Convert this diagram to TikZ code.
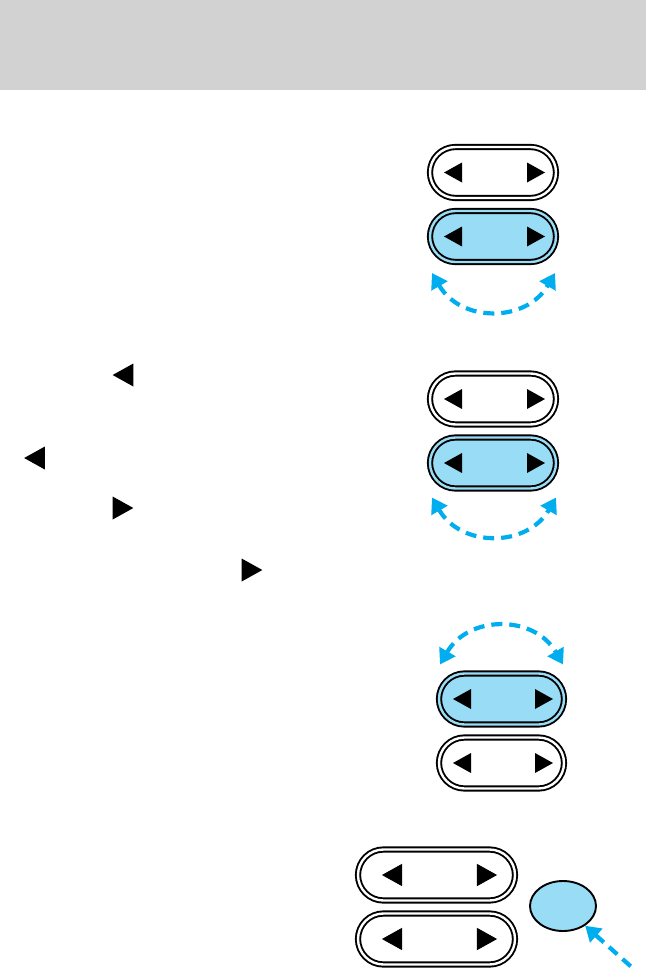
\documentclass[tikz,border=0pt]{standalone}
\usetikzlibrary{arrows.meta,positioning,shapes.misc,shapes.geometric}
\definecolor{keyblue}{RGB}{153,220,245}
\definecolor{swingblue}{RGB}{0,174,239}
\definecolor{headgray}{RGB}{210,210,210}

\begin{document}
\begin{tikzpicture}[x=1pt,y=-1pt,node distance=13pt,
key/.style={rounded rectangle,draw,line width=1.9pt,double=white,double distance=2.4pt,minimum width=126pt,minimum height=51pt,inner sep=0pt,outer sep=0pt},
keyon/.style={key,fill=keyblue,double=keyblue},
swing/.style={<->,swingblue,line width=4.2pt,dash pattern=on 11pt off 7pt,>={Triangle[length=15pt,width=18pt]}},
ltri/.pic={\fill (-9,0) -- (9,-10) -- (9,10) -- cycle;},
rtri/.pic={\fill (9,0) -- (-9,-10) -- (-9,10) -- cycle;}]
\useasboundingbox (0,0) rectangle (646,969);
\fill[headgray] (0,0) rectangle (646,90);

% first pair
\node[key] (k1a) at (493,172.5) {};
\node[keyon,below=of k1a] (k1b) {};
\coordinate (s1l) at ([shift={(-61,11)}]k1b.south);
\coordinate (s1r) at ([shift={(62,11)}]k1b.south);
\draw[swing] (s1l) to[bend right=60,looseness=1.2] (s1r);

% second pair
\node[key] (k2a) at (493,399) {};
\node[keyon,below=of k2a] (k2b) {};
\coordinate (s2l) at ([shift={(-61,9)}]k2b.south);
\coordinate (s2r) at ([shift={(63,9)}]k2b.south);
\draw[swing] (s2l) to[bend right=60,looseness=1.2] (s2r);

% third pair, lit key on top
\node[keyon,minimum width=125pt] (k3b) at (501.5,699) {};
\node[key,minimum width=125pt,below=of k3b] (k3a) {};
\coordinate (s3l) at ([shift={(-61.5,-9)}]k3b.north);
\coordinate (s3r) at ([shift={(61.5,-9)}]k3b.north);
\draw[swing] (s3l) to[bend left=60,looseness=1.2] (s3r);

\foreach \k in {k1a,k1b,k2a,k2b,k3a,k3b}{
  \pic at ([xshift=23pt]\k.west) {ltri};
  \pic at ([xshift=-20pt]\k.east) {rtri};
}

% last pair and round button
\node[key,minimum width=157pt] (k4a) at (436.5,875) {};
\node[key,minimum width=157pt,below=of k4a] (k4b) {};
\foreach \k in {k4a,k4b}{
  \pic[scale=1.12] at ([xshift=34pt]\k.west) {ltri};
  \pic[scale=1.12] at ([xshift=-28pt]\k.east) {rtri};
}
\node[ellipse,draw,line width=1.9pt,fill=keyblue,minimum width=66pt,minimum height=50pt,inner sep=0pt] (knob) at (563,906) {};
\coordinate (tail) at (636,971);
\draw[swing,<-] (knob) -- (tail);

% loose arrow marks
\pic[scale=1.15] at (123,375) {ltri};
\pic[scale=1.15] at (34.5,458) {ltri};
\pic[scale=1.15] at (123,508) {rtri};
\pic[scale=1.15] at (252,570) {rtri};
\end{tikzpicture}
\end{document}
